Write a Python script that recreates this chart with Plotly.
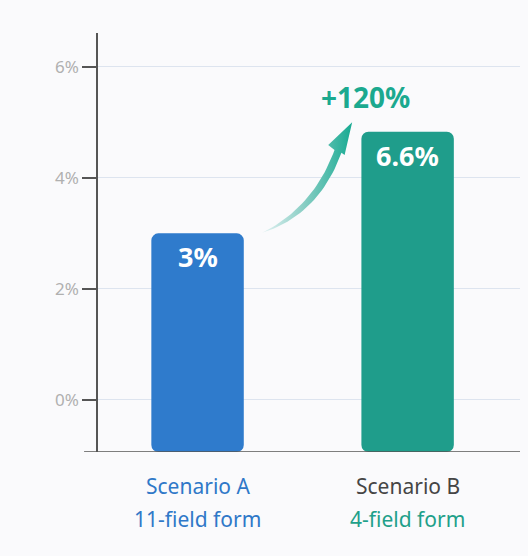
import numpy as np
import plotly.graph_objects as go

# 데이터
categories = [0, 1]
bar_heights = [3.0, 4.83]
bar_labels = ["3%", "6.6%"]
scenario_names = ["Scenario A", "Scenario B"]
form_names = ["11-field form", "4-field form"]
change_label = "+120%"

y_ticks = [0, 2, 4, 6]
y_ticktext = ["0%", "2%", "4%", "6%"]
y_min, y_max = -0.94, 6.61

bar_colors = ["#2f7bcc", "#1f9d8b"]
name_colors = ["#2f78c8", "#454545"]
form_colors = ["#2f78c8", "#1fa08a"]
font = "Noto Sans"

fig = go.Figure()

# 막대 (축 아래쪽 끝에서 시작)
fig.add_trace(go.Bar(
    x=categories,
    y=[h - y_min for h in bar_heights],
    base=y_min,
    width=0.44,
    marker=dict(color=bar_colors, line=dict(width=0)),
    hoverinfo="skip",
))


# 곡선 화살표 (2차 베지어)
def bezier(p0, c, p1, n=30):
    t = np.linspace(0, 1, n)[:, None]
    return (1 - t) ** 2 * np.array(p0) + 2 * (1 - t) * t * np.array(c) + t ** 2 * np.array(p1)


start = (0.307, bar_heights[0] + 0.01)
outer = bezier(start, (0.576, 3.33), (0.685, 4.45))
inner = bezier((0.652, 4.50), (0.552, 3.47), start)
head = np.array([[0.685, 4.45], [0.70, 4.41], [0.736, 5.0], [0.622, 4.59], [0.652, 4.50]])
arrow = np.vstack([outer, head, inner])
fig.add_trace(go.Scatter(
    x=arrow[:, 0], y=arrow[:, 1],
    mode="lines", line=dict(width=0),
    fill="toself",
    fillgradient=dict(type="horizontal",
                      colorscale=[[0, "#e3f2f3"], [0.45, "#8ccfc6"], [1, "#17aa92"]]),
    hoverinfo="skip",
))

# 막대 안쪽 값 라벨
for x, h, lab in zip(categories, bar_heights, bar_labels):
    fig.add_annotation(x=x, y=h, text="<b>%s</b>" % lab, showarrow=False,
                       yanchor="top", yshift=-3,
                       font=dict(family=font, size=27, color="white"))

# x축 두 줄 라벨
for x, nm, fm, c1, c2 in zip(categories, scenario_names, form_names, name_colors, form_colors):
    fig.add_annotation(x=x, y=y_min, text=nm, showarrow=False, yanchor="middle",
                       yshift=-34, font=dict(family=font, size=21, color=c1))
    fig.add_annotation(x=x, y=y_min, text=fm, showarrow=False, yanchor="middle",
                       yshift=-67, font=dict(family=font, size=21, color=c2))

fig.add_annotation(x=0.798, y=5.41, text="<b>%s</b>" % change_label, showarrow=False,
                   yshift=3, font=dict(family=font, size=28, color="#1ba98f"))

# x축 선 (왼쪽으로 눈금 길이만큼 연장)
fig.add_shape(type="line", xref="paper", yref="y", x0=-0.033, x1=1, y0=y_min, y1=y_min,
              line=dict(color="#555555", width=1.5))

fig.update_layout(
    width=528, height=556,
    margin=dict(l=98, r=8, t=33, b=104),
    paper_bgcolor="#fafafc", plot_bgcolor="#fafafc",
    showlegend=False,
    barcornerradius=7,
    font=dict(family=font),
)
fig.update_xaxes(range=[-0.474, 1.535], showticklabels=False, showgrid=False,
                 zeroline=False, showline=False, fixedrange=True)
fig.update_yaxes(range=[y_min, y_max], tickvals=y_ticks, ticktext=y_ticktext,
                 ticks="outside", ticklen=14, tickcolor="#555555", tickwidth=1.5,
                 tickfont=dict(family=font, size=17, color="#b0b0b0"),
                 showgrid=True, gridcolor="#dde4ef", gridwidth=1,
                 zeroline=False, showline=True, linecolor="#555555", linewidth=1.5)

fig.write_html("out.html", config={"displayModeBar": False},
               post_script="document.body.style.margin='0';document.body.style.background='#fafafc';")
